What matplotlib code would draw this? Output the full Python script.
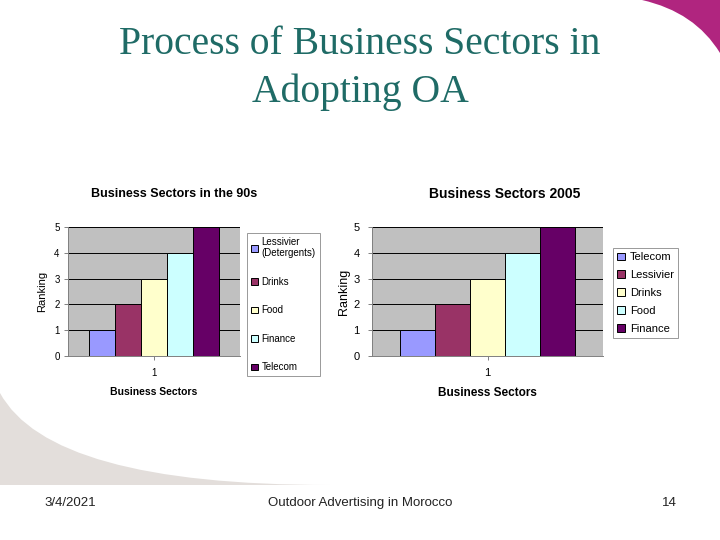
import numpy as np
import matplotlib.pyplot as plt
from matplotlib.path import Path
from matplotlib.patches import PathPatch

# -------------------------------------------------
# Data
# -------------------------------------------------

ranks = [1, 2, 3, 4, 5]

sectors_90s = ['Lessivier\n(Detergents)', 'Drinks', 'Food', 'Finance', 'Telecom']
sectors_2005 = ['Telecom', 'Lessivier', 'Drinks', 'Food', 'Finance']

colors = ['#9999FF', '#993366', '#FFFFCC', '#CCFFFF', '#660066']

category = [1]
yticks = [0, 1, 2, 3, 4, 5]

W, H = 720, 540

fig = plt.figure(figsize=(7.2, 5.4), dpi=100)
fig.patch.set_facecolor('white')


def px(x, y):
    # pixel (top-left origin) -> figure fraction
    return x / W, 1 - y / H


# -------------------------------------------------
# Slide decorations
# -------------------------------------------------

# magenta corner, top right
verts = [px(642, 0), px(695, 12), px(720, 53), px(720, 0), px(642, 0)]
codes = [Path.MOVETO, Path.CURVE3, Path.CURVE3, Path.LINETO, Path.CLOSEPOLY]
fig.patches.append(PathPatch(Path(verts, codes), transform=fig.transFigure,
                             facecolor='#B0257F', edgecolor='none'))

# grey swoosh, bottom left
verts = [px(0, 393), px(50, 485), px(330, 485), px(0, 485), px(0, 393)]
codes = [Path.MOVETO, Path.CURVE3, Path.CURVE3, Path.LINETO, Path.CLOSEPOLY]
fig.patches.append(PathPatch(Path(verts, codes), transform=fig.transFigure,
                             facecolor='#E3DEDB', edgecolor='none'))

# -------------------------------------------------
# Titles / footer
# -------------------------------------------------

tcol = '#1F6B66'
fig.text(*px(360, 44), 'Process of Business Sectors in', ha='center', va='center',
         fontsize=28.5, family='Liberation Serif', color=tcol)
fig.text(*px(360, 92), 'Adopting OA', ha='center', va='center',
         fontsize=28.5, family='Liberation Serif', color=tcol)

fig.text(*px(70, 503), '3/4/2021', ha='center', va='center', fontsize=9.5,
         family='Liberation Sans', color='#222222')
fig.text(*px(360, 503), 'Outdoor Advertising in Morocco', ha='center', va='center',
         fontsize=9.5, family='Liberation Sans', color='#222222')
fig.text(*px(669, 503), '14', ha='center', va='center', fontsize=9.5,
         family='Liberation Sans', color='#222222')

fig.text(*px(174, 194), 'Business Sectors in the 90s', ha='center', va='center',
         fontsize=9, family='Liberation Sans', fontweight='bold')
fig.text(*px(505, 194), 'Business Sectors 2005', ha='center', va='center',
         fontsize=10, family='Liberation Sans', fontweight='bold')

# -------------------------------------------------
# Bar charts
# -------------------------------------------------

bw = 0.152


def bar_chart(rect, labels, fs, tpad, ylpad, leg_anchor, leg_fs, leg_spacing):
    ax = fig.add_axes(rect)
    ax.set_facecolor('#C0C0C0')
    for i, (r, lab, c) in enumerate(zip(ranks, labels, colors)):
        ax.bar(category[0] + (i - 2) * bw, r, width=bw, color=c,
               edgecolor='black', linewidth=0.7, label=lab, zorder=3)
    ax.set_xlim(0.5, 1.5)
    ax.set_ylim(0, 5)
    ax.set_yticks(yticks)
    ax.set_xticks(category)
    ax.yaxis.grid(True, color='black', linewidth=0.7, zorder=1)
    ax.set_axisbelow(True)
    for s in ['top', 'right']:
        ax.spines[s].set_visible(False)
    for s in ['left', 'bottom']:
        ax.spines[s].set_color('#808080')
        ax.spines[s].set_linewidth(0.7)
    ax.tick_params(labelsize=fs, length=3, width=0.7, color='#808080', pad=6)
    ax.tick_params(axis='y', pad=tpad)
    for t in ax.get_xticklabels() + ax.get_yticklabels():
        t.set_family('Liberation Sans')
    ax.set_ylabel('Ranking', fontsize=fs + 1, family='Liberation Sans', labelpad=ylpad)
    ax.set_xlabel('Business Sectors', fontsize=fs + 0.5, family='Liberation Sans',
                  fontweight='bold', labelpad=6)
    leg = ax.legend(loc='upper left', bbox_to_anchor=leg_anchor,
                    bbox_transform=fig.transFigure, fontsize=leg_fs,
                    frameon=True, fancybox=False, handlelength=0.7,
                    handleheight=0.7, handletextpad=0.4, borderaxespad=0,
                    labelspacing=leg_spacing, borderpad=0.4)
    leg.get_frame().set_edgecolor('#808080')
    leg.get_frame().set_linewidth(0.7)
    for t in leg.get_texts():
        t.set_family('Liberation Sans')
    return ax


x0, y0 = px(68, 356)
x1, y1 = px(240, 227)
bar_chart([x0, y0, x1 - x0, y1 - y0], sectors_90s, 7, 3, 5,
          px(247, 233), 7, 1.9)

x0, y0 = px(372, 356)
x1, y1 = px(603, 227)
bar_chart([x0, y0, x1 - x0, y1 - y0], sectors_2005, 8, 6, 2,
          px(613, 248), 8, 0.7)

fig.savefig('out.png', dpi=100)
